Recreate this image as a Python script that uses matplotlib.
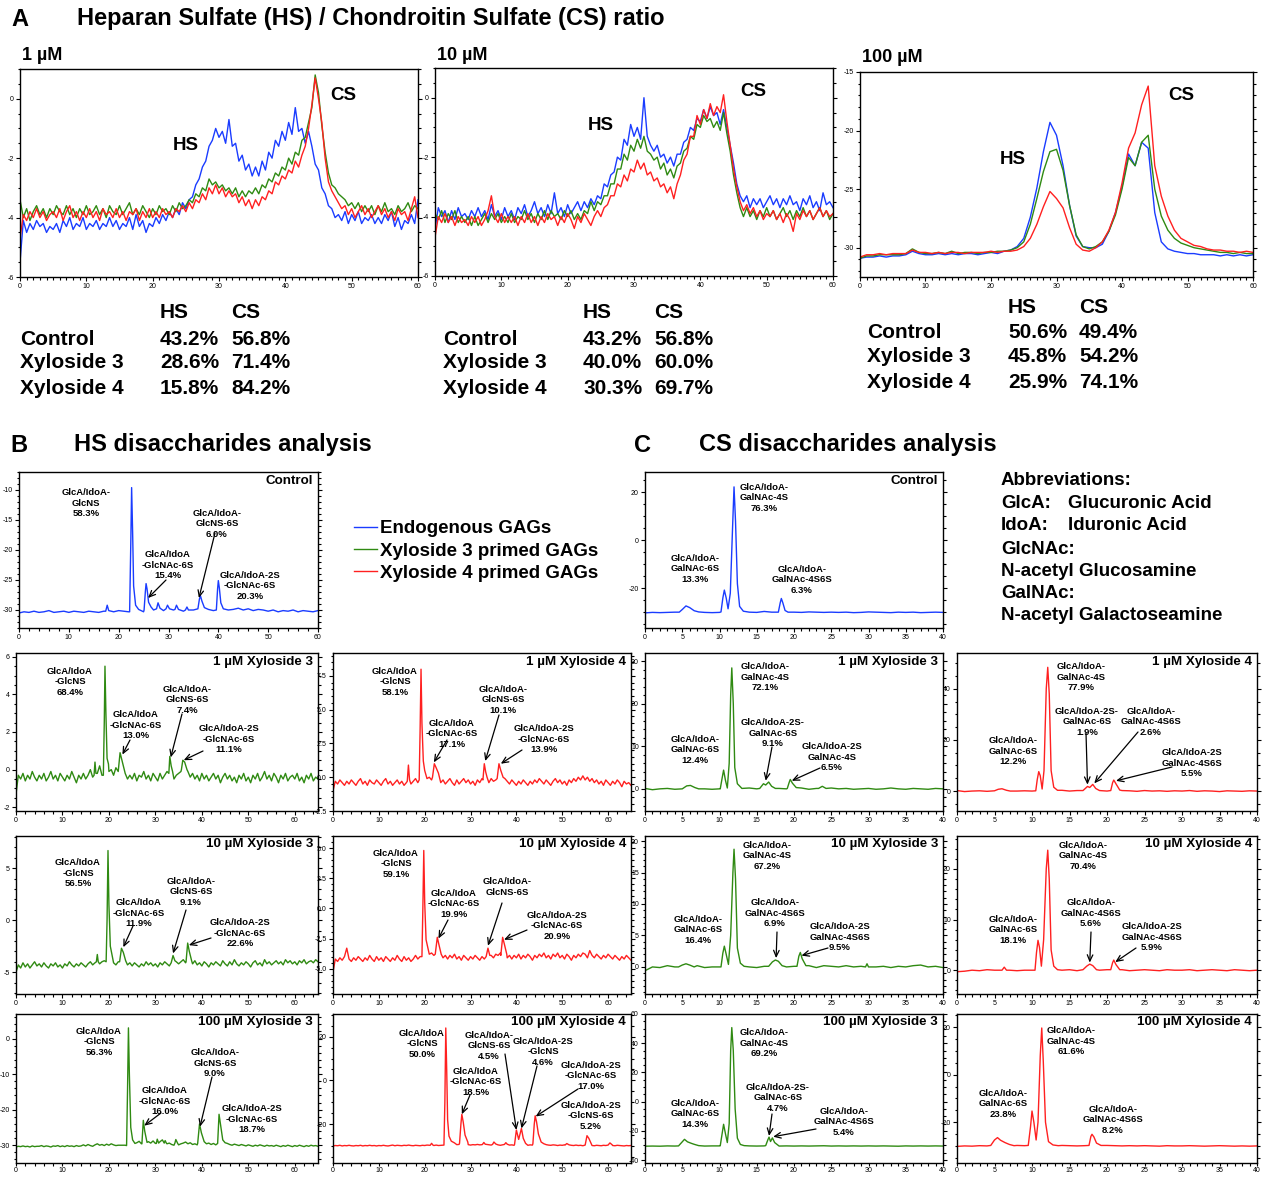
import numpy as np
import matplotlib
matplotlib.use('Agg')
import matplotlib.pyplot as plt
from matplotlib.ticker import MultipleLocator, FormatStrFormatter

plt.rcParams['font.family'] = ['Liberation Sans', 'DejaVu Sans']
plt.rcParams['axes.unicode_minus'] = False

W, H = 1262, 1179
BLUE, GREEN, RED = '#1a3cff', '#2f8a12', '#ff2020'

# ---------------- A: HS / CS ratio runs, 0-60 min, one value every 0.5 min
a1_blue = [-5.5,-4.1,-4.5,-4.2,-4.4,-4.1,-4.3,-4.2,-4.5,-4.3,-4.4,-4.2,-4.5,-4.1,-4.3,-4.0,-4.4,-4.2,-4.3,-4.0,
           -4.4,-4.2,-4.3,-4.1,-4.4,-4.2,-4.3,-4.0,-4.3,-4.1,-4.4,-4.2,-4.3,-4.0,-4.4,-3.9,-4.3,-4.1,-4.5,-4.2,
           -4.3,-4.0,-4.2,-3.9,-4.1,-3.8,-4.0,-3.7,-3.9,-3.5,-3.7,-3.4,-3.3,-2.9,-2.7,-2.3,-2.1,-1.6,-1.4,-1.0,
           -1.3,-1.1,-1.5,-0.7,-1.6,-1.5,-2.1,-1.9,-2.4,-2.2,-2.6,-2.3,-2.6,-2.1,-2.4,-1.8,-2.0,-1.4,-1.6,-1.1,
           -1.4,-0.8,-1.2,-0.3,-1.1,-1.0,-1.5,-1.1,-1.6,-2.2,-2.4,-3.0,-3.2,-3.6,-3.7,-4.0,-3.9,-4.1,-3.8,-4.2,
           -3.9,-4.1,-3.8,-4.2,-4.0,-4.1,-3.9,-4.2,-4.0,-4.2,-3.9,-4.1,-3.8,-4.3,-4.0,-4.4,-4.1,-4.2,-3.9,-4.2,-3.4]
a1_green = [-3.4,-4.0,-3.7,-4.1,-3.8,-3.6,-3.9,-3.7,-4.0,-3.7,-3.9,-3.6,-3.8,-3.9,-3.6,-3.9,-3.7,-4.0,-3.7,-3.9,
            -3.6,-3.9,-3.8,-3.6,-3.9,-3.7,-4.0,-3.6,-3.8,-3.9,-3.6,-3.9,-3.7,-3.5,-3.9,-3.7,-3.9,-3.6,-3.8,-4.0,
            -3.7,-3.9,-3.6,-3.8,-3.7,-3.9,-3.6,-3.8,-3.5,-3.7,-3.6,-3.4,-3.5,-3.2,-3.3,-3.0,-3.1,-2.7,-2.9,-2.8,
            -3.0,-2.9,-3.1,-3.0,-3.2,-3.0,-3.3,-3.1,-3.3,-3.1,-3.2,-3.0,-3.2,-2.9,-3.0,-2.7,-2.8,-2.5,-2.6,-2.3,
            -2.4,-2.0,-2.2,-1.8,-1.9,-1.4,-1.3,-0.8,-0.3,0.8,0.2,-0.9,-1.8,-2.5,-2.9,-3.0,-3.2,-3.3,-3.4,-3.6,
            -3.5,-3.7,-3.5,-3.8,-3.6,-3.8,-3.6,-3.9,-3.6,-3.8,-3.5,-3.8,-3.7,-3.9,-3.6,-3.8,-3.7,-3.5,-3.8,-3.6,-3.7]
a1_red = [-4.7,-3.9,-4.1,-3.8,-4.0,-3.7,-4.0,-3.8,-4.1,-3.9,-3.8,-4.0,-3.7,-4.1,-3.8,-3.6,-4.0,-3.8,-4.1,-3.8,
          -4.0,-3.7,-4.0,-3.8,-4.1,-3.7,-3.9,-3.8,-4.0,-3.7,-4.0,-3.8,-4.1,-3.8,-3.9,-3.7,-4.1,-3.8,-4.0,-3.7,
          -4.0,-3.8,-4.0,-3.7,-3.9,-3.8,-4.0,-3.7,-3.8,-3.6,-3.8,-3.5,-3.7,-3.4,-3.5,-3.2,-3.4,-3.0,-3.2,-2.9,
          -3.2,-3.0,-3.3,-3.1,-3.3,-3.2,-3.5,-3.3,-3.6,-3.4,-3.7,-3.4,-3.6,-3.3,-3.4,-3.1,-3.2,-2.8,-2.9,-2.6,
          -2.7,-2.4,-2.5,-2.1,-2.3,-1.9,-1.6,-1.0,-0.2,0.7,0.0,-0.8,-2.0,-2.8,-3.1,-3.3,-3.5,-3.7,-3.6,-3.9,
          -3.7,-4.0,-3.8,-3.6,-3.9,-3.7,-4.0,-3.8,-3.6,-3.9,-3.7,-4.0,-3.8,-4.1,-3.7,-3.9,-3.8,-4.1,-3.7,-3.3,-4.0]
a2_blue = [-4.4,-3.7,-4.0,-3.8,-4.2,-3.8,-4.1,-3.7,-4.0,-3.9,-4.1,-3.8,-4.0,-3.7,-4.0,-3.8,-4.1,-3.6,-4.0,-3.8,
           -4.1,-3.7,-4.0,-3.8,-4.1,-3.7,-3.9,-3.6,-4.0,-3.8,-3.5,-3.9,-3.7,-4.0,-3.6,-3.9,-3.2,-3.9,-3.7,-4.0,
           -3.6,-3.9,-3.7,-3.5,-3.8,-3.5,-3.7,-3.4,-3.6,-3.3,-3.4,-2.9,-3.0,-2.6,-2.5,-2.0,-2.1,-1.4,-1.6,-0.9,
           -1.3,-1.0,-1.4,0.0,-1.3,-1.6,-1.8,-1.6,-2.0,-1.9,-2.2,-2.0,-2.3,-1.9,-1.9,-1.5,-1.4,-1.0,-1.1,-0.7,
           -0.8,-0.4,-0.7,-0.3,-0.6,-0.5,-0.9,-0.4,-1.0,-1.6,-2.2,-2.9,-3.3,-3.5,-3.3,-3.7,-3.4,-3.6,-3.4,-3.7,
           -3.5,-3.3,-3.6,-3.4,-3.7,-3.4,-3.6,-3.3,-3.6,-3.5,-3.8,-3.4,-3.6,-3.3,-3.7,-3.5,-3.8,-3.2,-3.6,-3.5,-3.7]
a2_green = [-3.9,-4.1,-3.8,-4.2,-3.9,-4.1,-3.8,-4.2,-4.0,-4.2,-4.0,-4.3,-4.0,-4.3,-4.1,-3.9,-4.2,-3.9,-4.1,-3.9,
            -4.2,-4.0,-4.2,-3.9,-4.2,-4.0,-4.1,-3.8,-4.1,-3.9,-4.2,-3.9,-4.1,-3.8,-4.1,-3.8,-4.0,-3.9,-4.1,-3.8,
            -4.0,-3.8,-4.1,-3.9,-4.1,-3.8,-3.9,-3.5,-3.8,-3.5,-3.6,-3.3,-3.3,-2.9,-2.9,-2.4,-2.4,-1.9,-2.1,-1.6,
            -1.8,-1.4,-1.7,-1.3,-1.8,-1.9,-2.1,-2.0,-2.4,-2.2,-2.6,-2.4,-2.7,-2.3,-2.2,-1.8,-1.7,-1.3,-1.4,-0.9,
            -1.0,-0.6,-0.8,-0.7,-1.0,-0.8,-1.1,-0.5,-1.2,-1.8,-2.6,-3.2,-3.7,-4.0,-3.7,-4.0,-3.8,-4.1,-3.8,-4.0,
            -3.7,-4.0,-3.8,-4.1,-3.9,-3.7,-4.0,-3.8,-4.1,-3.8,-4.0,-3.7,-4.0,-3.8,-4.1,-3.9,-3.7,-4.0,-3.8,-4.1,-3.9]
a2_red = [-4.7,-4.0,-4.2,-3.9,-4.2,-4.0,-4.3,-4.0,-4.2,-4.1,-4.3,-4.0,-4.2,-4.0,-4.3,-4.1,-3.8,-3.3,-4.0,-4.2,
          -3.9,-4.2,-4.0,-4.2,-4.0,-4.3,-4.0,-4.2,-3.9,-4.2,-4.0,-4.3,-4.0,-4.2,-3.9,-4.1,-4.0,-4.3,-4.0,-4.2,
          -3.9,-4.1,-4.4,-4.0,-4.2,-3.9,-4.1,-4.3,-4.0,-3.8,-4.0,-3.7,-3.6,-3.3,-3.3,-2.9,-3.0,-2.6,-2.8,-2.4,
          -2.5,-2.1,-2.4,-2.2,-2.6,-2.5,-2.8,-2.7,-3.0,-2.9,-3.2,-3.0,-3.4,-2.9,-2.6,-2.1,-1.9,-1.3,-1.3,-0.6,
          -0.9,-0.4,-0.7,-0.2,-0.6,-0.3,-0.5,0.1,-0.8,-1.6,-2.4,-3.0,-3.5,-3.8,-3.6,-3.9,-3.7,-4.0,-3.8,-4.1,
          -3.9,-4.0,-3.8,-4.1,-3.9,-4.2,-3.9,-4.1,-4.5,-3.9,-4.1,-3.8,-4.0,-3.8,-4.1,-3.9,-3.7,-4.0,-3.8,-4.0,-3.9]
# 100 uM run, one value per minute
a3_blue = [-30.9,-30.8,-30.8,-30.7,-30.8,-30.7,-30.7,-30.6,-30.3,-30.5,-30.6,-30.6,-30.5,-30.6,-30.5,-30.6,
           -30.5,-30.5,-30.6,-30.5,-30.4,-30.5,-30.3,-30.2,-29.9,-29.2,-27.4,-24.9,-21.8,-19.3,-20.4,-23.0,
           -26.4,-29.0,-29.9,-30.0,-30.0,-29.7,-28.6,-27.0,-24.8,-22.0,-23.0,-21.0,-21.5,-27.0,-29.5,-30.1,
           -30.3,-30.4,-30.5,-30.5,-30.6,-30.6,-30.6,-30.7,-30.6,-30.7,-30.6,-30.7,-30.6]
a3_green = [-30.9,-30.7,-30.7,-30.6,-30.6,-30.6,-30.6,-30.5,-30.1,-30.4,-30.5,-30.5,-30.4,-30.5,-30.3,-30.5,
            -30.4,-30.4,-30.5,-30.4,-30.4,-30.3,-30.3,-30.2,-30.0,-29.5,-28.0,-25.8,-23.5,-21.8,-21.6,-23.4,
            -26.4,-28.9,-29.9,-30.1,-29.9,-29.5,-28.6,-27.2,-25.0,-22.3,-23.0,-21.0,-20.4,-25.0,-27.3,-28.5,
            -29.2,-29.6,-29.8,-30.0,-30.1,-30.2,-30.3,-30.4,-30.4,-30.5,-30.4,-30.5,-30.5]
a3_red = [-30.8,-30.6,-30.6,-30.5,-30.6,-30.5,-30.5,-30.5,-30.2,-30.4,-30.4,-30.5,-30.4,-30.5,-30.4,-30.4,
          -30.5,-30.4,-30.4,-30.4,-30.3,-30.4,-30.3,-30.3,-30.2,-29.9,-29.2,-28.0,-26.5,-25.2,-25.8,-26.6,
          -28.3,-29.7,-30.2,-30.3,-30.0,-29.5,-28.5,-27.0,-24.5,-21.5,-20.2,-17.8,-16.2,-23.0,-25.6,-27.3,
          -28.5,-29.2,-29.5,-29.8,-29.9,-30.1,-30.2,-30.2,-30.3,-30.3,-30.4,-30.3,-30.4]

groups = ['Control', 'Xyloside 3', 'Xyloside 4']
hs_pct = {'1 µM': [43.2, 28.6, 15.8], '10 µM': [43.2, 40.0, 30.3], '100 µM': [50.6, 45.8, 25.9]}
cs_pct = {'1 µM': [56.8, 71.4, 84.2], '10 µM': [56.8, 60.0, 69.7], '100 µM': [49.4, 54.2, 74.1]}

# ---------------- B / C: disaccharide runs. baseline sampled evenly, peaks as (min, signal) vertices
hs_ctrl_base = [-30.5,-30.3,-30.4,-30.2,-30.4,-30.3,-30.1,-30.4,-30.3,-30.2,-30.4,-30.2,-30.3,-30.4,-30.2,-30.3,
                -30.4,-30.2,-30.1,-30.3,-30.1,-30.2,-30.3,-30.3,-30.0,-30.3,-29.8,-30.0,-29.7,-30.1,-29.8,-30.0,
                -29.9,-30.2,-29.8,-30.0,-30.1,-30.0,-29.9,-30.1,-30.0,-29.8,-30.0,-29.9,-29.7,-30.0,-29.8,-30.1,
                -29.9,-30.0,-30.2,-30.0,-30.3,-30.1,-30.2,-30.0,-30.3,-30.1,-30.2,-30.3,-30.1]
hs_ctrl_peaks = [[(17.4,-30.2),(17.7,-29.2),(18.0,-30.1)],
                 [(22.2,-30.3),(22.45,-18),(22.6,-9.6),(22.8,-17),(23.0,-26),(23.4,-29.2),(24.0,-29.9)],
                 [(25.1,-30.0),(25.35,-27),(25.5,-25.6),(25.7,-26.5),(26.0,-28.7),(26.5,-29.5)],
                 [(27.6,-29.8),(27.9,-28.8),(28.3,-29.7)], [(29.5,-29.8),(29.8,-29.2),(30.2,-29.8)],
                 [(31.3,-29.9),(31.6,-29.2),(32.0,-29.9)], [(33.4,-30.0),(33.7,-29.5),(34.0,-30.0)],
                 [(35.9,-29.8),(36.2,-28.2),(36.4,-27.6),(36.7,-28.5),(37.2,-29.6)],
                 [(39.6,-30.0),(39.85,-26.5),(40.0,-25.1),(40.2,-26.3),(40.5,-28.8),(41.0,-29.8)]]

cs_ctrl_base = [-30.2,-30.0,-30.1,-30.0,-29.9,-29.5,-29.5,-29.9,-30.0,-30.1,-30.0,-30.0,-30.0,-29.8,-29.9,
                -30.0,-29.6,-29.9,-30.0,-30.0,-29.9,-30.0,-29.8,-29.9,-30.0,-29.9,-30.0,-29.9,-30.1,-30.0,
                -29.8,-29.9,-30.0,-30.1,-29.9,-30.0,-29.9,-30.1,-30.0,-29.9,-30.0]
cs_ctrl_peaks = [[(4.6,-29.9),(5.0,-28.8),(5.5,-27.3),(6.0,-28.0),(6.6,-29.3),(7.2,-29.8)],
                 [(10.2,-29.8),(10.45,-24),(10.65,-20.7),(10.9,-24),(11.15,-28.5),(11.45,-22),(11.75,5),
                  (11.95,22.3),(12.15,8),(12.4,-18),(12.7,-27.5),(13.2,-29.5)],
                 [(17.9,-29.9),(18.15,-26),(18.3,-24.2),(18.5,-26),(18.8,-29.2),(19.2,-29.9)]]

# HS runs, 0-65 min every 0.5 min
hs_x3_1_base = [-1.3,-0.3,-0.5,-0.2,-0.6,-0.3,-0.5,-0.1,-0.4,-0.6,-0.3,-0.5,-0.2,-0.6,-0.4,-0.1,-0.5,-0.3,-0.6,-0.2,
                -0.4,-0.6,-0.3,-0.5,-0.1,-0.4,-0.7,-0.3,-0.5,-0.2,-0.5,-0.3,0.0,-0.4,-0.6,-0.2,0.2,-0.3,-0.2,-0.2,
                -0.1,0.0,-0.3,0.1,-0.2,-0.1,-0.4,-0.2,-0.5,-0.3,-0.5,-0.2,-0.6,-0.3,-0.4,-0.1,-0.5,-0.3,-0.6,-0.2,
                -0.4,-0.6,-0.2,-0.5,-0.3,-0.1,-0.4,-0.2,-0.5,-0.3,-0.2,-0.1,0.0,-0.3,-0.1,-0.4,-0.2,-0.5,-0.3,-0.6,
                -0.2,-0.5,-0.3,-0.6,-0.4,-0.2,-0.5,-0.3,-0.7,-0.4,-0.2,-0.5,-0.3,-0.6,-0.4,-0.7,-0.3,-0.5,-0.2,-0.6,
                -0.4,-0.7,-0.3,-0.5,-0.2,-0.6,-0.4,-0.1,-0.5,-0.3,-0.6,-0.2,-0.4,-0.7,-0.3,-0.5,-0.2,-0.6,-0.4,-0.3,
                -0.5,-0.2,-0.6,-0.4,-0.7,-0.3,-0.5,-0.2,-0.6,-0.4,-0.5]
hs_x3_1_peaks = [[(16.8,-0.3),(17.0,0.4),(17.2,-0.2)],
                 [(18.8,-0.3),(19.0,2.5),(19.15,5.5),(19.35,3.0),(19.6,0.6),(19.9,0.3)],
                 [(22.0,-0.1),(22.4,0.9),(22.7,0.6),(23.2,0.1)],
                 [(32.9,-0.2),(33.1,0.7),(33.4,0.2),(33.7,-0.1)],
                 [(35.6,0.0),(35.9,0.5),(36.3,0.4),(36.8,0.0)]]
hs_x4_1_base = [-1.0,-0.3,-0.5,-0.2,-0.4,-0.6,-0.3,-0.5,-0.2,-0.4,-0.6,-0.3,-0.1,-0.5,-0.3,-0.6,-0.2,-0.4,-0.5,-0.2,
                -0.4,-0.6,-0.3,-0.1,-0.5,-0.3,-0.6,-0.4,-0.2,-0.5,-0.3,-0.6,-0.4,-0.2,-0.5,-0.3,-0.1,-0.4,-0.2,0.2,
                0.1,-0.1,0.0,-0.2,0.0,-0.3,-0.1,-0.4,-0.2,-0.5,-0.3,-0.1,-0.4,-0.6,-0.2,-0.5,-0.3,-0.1,-0.4,-0.2,
                -0.5,-0.3,-0.6,-0.2,-0.4,-0.1,-0.3,-0.2,-0.4,-0.1,-0.3,-0.2,0.0,-0.2,-0.4,-0.1,-0.3,-0.5,-0.2,-0.4,
                -0.6,-0.3,-0.5,-0.2,-0.4,-0.6,-0.3,-0.5,-0.2,-0.4,-0.1,-0.3,-0.5,-0.2,-0.4,-0.6,-0.3,-0.1,-0.4,-0.2,
                -0.5,-0.3,-0.6,-0.2,-0.4,-0.1,-0.3,0.0,-0.2,0.1,-0.2,0.0,-0.3,-0.1,-0.4,-0.2,-0.5,-0.3,-0.6,-0.2,
                -0.4,-0.6,-0.3,-0.5,-0.2,-0.4,-0.7,-0.3,-0.5,-0.4,-0.6]
hs_x4_1_peaks = [[(16.2,-0.3),(16.45,0.9),(16.7,-0.2)],
                 [(18.8,-0.2),(19.0,3.5),(19.2,8.0),(19.4,4.0),(19.7,1.2),(20.0,0.5)],
                 [(21.7,0.0),(22.1,1.0),(22.5,0.7),(23.0,0.3)],
                 [(32.7,-0.2),(33.0,1.0),(33.3,0.4),(33.6,0.0)],
                 [(35.8,-0.1),(36.2,1.0),(36.6,0.5),(37.1,0.0)]]
hs_x3_10_base = [-5.0,-4.3,-4.6,-4.1,-4.5,-4.2,-4.6,-4.3,-4.0,-4.4,-4.2,-4.5,-4.1,-4.4,-4.6,-4.2,-4.4,-4.1,-4.5,-4.3,
                 -4.6,-4.2,-4.4,-4.0,-4.3,-4.5,-4.2,-4.4,-4.1,-4.3,-4.5,-4.2,-4.0,-4.3,-4.1,-3.7,-4.2,-4.0,-3.9,-3.8,
                 -3.6,-3.9,-4.1,-4.3,-4.0,-3.8,-4.2,-4.0,-4.3,-4.1,-4.4,-4.1,-4.3,-4.5,-4.2,-4.4,-4.0,-4.3,-4.1,-4.4,
                 -4.2,-4.5,-4.1,-4.3,-4.0,-4.2,-4.4,-4.1,-4.3,-4.0,-4.2,-4.0,-3.8,-4.1,-4.3,-4.0,-4.2,-3.9,-4.3,-4.1,
                 -4.4,-4.0,-4.2,-4.5,-4.1,-4.3,-4.0,-4.2,-4.4,-3.9,-4.2,-4.4,-4.0,-4.3,-3.8,-4.2,-4.4,-4.1,-4.3,-4.0,
                 -4.2,-4.5,-4.1,-3.9,-4.3,-4.1,-4.4,-3.8,-4.2,-4.0,-4.3,-4.1,-3.9,-4.2,-4.0,-4.3,-3.8,-4.1,-3.9,-4.2,
                 -4.0,-4.3,-3.9,-4.1,-3.8,-4.2,-4.0,-3.9,-4.1,-3.8,-4.0]
hs_x3_10_peaks = [[(17.3,-4.0),(17.5,-3.3),(17.7,-4.0)],
                  [(19.4,-4.0),(19.6,0.0),(19.8,6.7),(20.0,1.5),(20.3,-2.5),(20.7,-3.4)],
                  [(22.3,-4.0),(22.7,-2.7),(23.1,-3.1),(23.6,-3.9)],
                  [(33.4,-4.1),(33.8,-3.4),(34.2,-3.9)],
                  [(36.6,-4.0),(36.95,-2.2),(37.3,-3.0),(37.8,-3.9)]]
hs_x4_10_base = [-5.3,-4.2,-4.4,-4.1,-4.3,-4.0,-3.3,-4.2,-4.4,-4.1,-4.3,-4.0,-4.2,-4.4,-4.1,-4.3,-3.9,-4.2,-4.4,-4.0,
                 -4.3,-4.1,-4.4,-4.0,-4.2,-4.4,-4.1,-4.3,-3.9,-4.2,-4.4,-4.0,-4.3,-4.1,-4.4,-4.2,-3.9,-4.2,-4.0,-3.8,
                 -3.4,-3.6,-3.8,-3.7,-3.9,-3.7,-4.0,-3.8,-4.1,-3.9,-4.2,-3.9,-4.1,-3.8,-4.2,-4.0,-4.3,-3.9,-4.1,-4.3,
                 -4.0,-4.2,-3.9,-4.1,-4.3,-4.0,-4.2,-3.8,-4.1,-3.9,-4.1,-3.8,-3.9,-3.7,-4.0,-3.8,-4.1,-3.9,-4.2,-3.9,
                 -4.1,-3.8,-4.2,-3.9,-4.1,-3.8,-4.0,-4.3,-3.9,-4.1,-3.8,-4.0,-3.7,-4.1,-3.9,-4.2,-3.8,-4.0,-3.7,-4.1,
                 -3.9,-4.2,-3.8,-4.0,-4.3,-3.9,-4.1,-3.8,-4.0,-3.7,-3.8,-4.1,-3.5,-3.9,-4.1,-3.8,-4.0,-4.2,-3.9,-4.1,
                 -3.8,-4.0,-4.2,-3.9,-4.1,-4.3,-4.0,-4.2,-3.9,-4.1,-4.3]
hs_x4_10_peaks = [[(19.4,-4.0),(19.6,0.0),(19.8,4.8),(20.0,0.5),(20.3,-2.6),(20.7,-3.3)],
                  [(22.3,-3.8),(22.75,-2.4),(23.1,-3.0),(23.6,-3.8)],
                  [(33.4,-4.0),(33.8,-3.3),(34.2,-3.9)],
                  [(36.6,-3.9),(37.0,-2.4),(37.4,-3.0),(37.9,-3.8)]]
hs_x3_100_base = [-30.5,-30.3,-30.4,-30.2,-30.4,-30.3,-30.5,-30.2,-30.4,-30.3,-30.3,-30.1,-30.4,-30.2,-30.3,-30.5,
                  -30.2,-30.3,-30.1,-30.4,-30.2,-30.4,-30.1,-30.3,-30.2,-30.4,-30.1,-30.3,-30.2,-29.9,-30.2,-29.8,
                  -30.1,-30.3,-29.9,-29.6,-30.0,-29.8,-30.1,-29.7,-30.0,-29.6,-29.9,-30.1,-30.0,-30.0,-30.0,-30.0,
                  -29.5,-29.8,-29.0,-28.8,-29.3,-28.9,-29.6,-29.3,-29.5,-29.0,-29.4,-28.8,-29.5,-29.2,-29.0,-28.5,
                  -29.3,-29.6,-29.4,-29.8,-30.0,-29.7,-29.9,-29.6,-29.4,-29.1,-29.6,-29.3,-29.8,-29.6,-29.9,-30.1,
                  -29.8,-30.0,-29.6,-29.4,-29.8,-29.5,-29.9,-29.6,-29.8,-30.0,-29.7,-29.5,-29.8,-30.0,-29.7,-29.9,
                  -30.1,-29.8,-30.0,-30.2,-29.9,-30.1,-30.3,-30.0,-30.2,-29.9,-30.1,-30.3,-30.0,-30.2,-30.1,-30.3,
                  -30.0,-30.2,-30.4,-30.1,-30.3,-30.0,-30.2,-30.4,-30.1,-30.3,-30.0,-30.2,-30.4,-30.1,-30.3,-30.0,
                  -30.2,-30.1,-30.3]
hs_x3_100_peaks = [[(23.8,-30.1),(24.0,-15),(24.2,3.0),(24.4,-10),(24.7,-25),(25.1,-28.5),(25.6,-29.5)],
                   [(27.1,-29.6),(27.4,-23),(27.7,-26),(28.2,-29.2)],
                   [(30.2,-29.5),(30.4,-28.3),(30.7,-29.4)], [(31.9,-29.4),(32.1,-28.7),(32.4,-29.5)],
                   [(34.2,-29.4),(34.4,-28.4),(34.8,-29.5)],
                   [(39.1,-29.5),(39.5,-24.0),(39.9,-26.5),(40.5,-29.0)],
                   [(43.4,-29.5),(43.7,-21.3),(44.0,-24),(44.5,-28.5),(45.0,-29.3)]]
hs_x4_100_base = [-30.0,-29.8,-29.9,-29.7,-30.0,-29.8,-29.9,-29.7,-29.9,-30.0,-29.8,-29.9,-29.7,-30.0,-29.8,-29.9,
                  -29.7,-29.9,-29.8,-30.0,-29.8,-29.9,-29.7,-29.9,-30.0,-29.8,-29.6,-29.9,-29.7,-29.8,-29.9,-29.7,
                  -29.8,-29.6,-29.8,-29.9,-29.7,-29.8,-29.9,-29.7,-29.8,-29.6,-29.7,-29.5,-29.8,-29.6,-29.8,-29.7,
                  -29.6,-29.5,-28.0,-28.6,-29.0,-29.2,-29.4,-29.3,-29.5,-29.3,-29.5,-29.4,-29.6,-29.4,-29.5,-29.3,
                  -29.5,-29.4,-29.6,-29.3,-29.5,-29.6,-29.4,-29.6,-29.5,-29.7,-29.5,-29.6,-29.4,-29.6,-29.5,-29.7,
                  -29.5,-29.6,-29.4,-29.6,-29.5,-29.7,-29.5,-29.6,-29.4,-29.6,-29.3,-29.5,-29.6,-29.4,-29.6,-29.7,
                  -29.5,-29.6,-29.8,-29.6,-29.7,-29.5,-29.3,-29.5,-29.7,-29.8,-29.6,-29.8,-29.7,-29.9,-29.7,-29.8,
                  -29.6,-29.8,-29.9,-29.7,-29.8,-29.9,-29.7,-29.8,-29.9,-29.7,-29.8,-29.9,-29.7,-29.8,-29.9,-30.0,
                  -29.8,-29.9,-29.8]
hs_x4_100_peaks = [[(21.2,-29.7),(21.5,-28.8),(21.8,-29.6)],
                   [(24.2,-29.6),(24.4,-10),(24.6,24),(24.8,5),(25.0,-18),(25.3,-25.5),(25.8,-27.8),(26.5,-28.6)],
                   [(27.6,-28.8),(27.9,-20),(28.1,-15.5),(28.4,-19),(28.8,-25),(29.4,-28.2)],
                   [(32.6,-29.3),(32.9,-28.4),(33.2,-29.2)], [(34.8,-29.3),(35.1,-28.2),(35.5,-29.1)],
                   [(37.4,-29.3),(37.7,-28.5),(38.0,-29.2)],
                   [(39.6,-29.3),(40.0,-22.7),(40.5,-27),(41.1,-22.0),(41.5,-26.5),(42.0,-28.8)],
                   [(43.6,-29.0),(43.9,-20),(44.1,-16.2),(44.4,-19),(44.8,-24.5),(45.4,-28.2),(46.0,-29.0)],
                   [(50.6,-29.6),(51.0,-28.9),(51.5,-29.5)],
                   [(55.0,-29.6),(55.4,-25.3),(55.8,-26.5),(56.4,-29.3)],
                   [(60.0,-29.6),(60.4,-28.6),(60.9,-29.5)]]

# CS runs, 0-40 min every minute
cs_x3_1_base = [0.1,-0.2,0.0,0.1,-0.1,0.2,0.6,0.3,0.0,-0.1,0.0,0.0,0.0,0.1,0.2,0.0,0.0,0.0,0.1,0.0,
                0.0,0.2,-0.1,0.1,0.5,0.2,0.0,0.1,-0.1,0.0,0.1,-0.1,0.0,0.2,0.0,-0.1,0.1,0.0,-0.1,0.1,0.0]
cs_x3_1_peaks = [[(5.0,0.0),(5.6,0.7),(6.1,0.8),(6.7,0.3),(7.2,0.0)],
                 [(10.1,0.0),(10.35,2.5),(10.55,4.4),(10.8,2.0),(11.05,0.2),(11.3,6),(11.5,22),(11.65,28.4),
                  (11.85,20),(12.05,5),(12.4,1.2),(12.9,0.3)],
                 [(15.4,0.1),(15.9,1.2),(16.2,0.9),(16.6,1.6),(17.0,0.6),(17.5,0.1)],
                 [(19.1,0.1),(19.35,1.5),(19.5,2.2),(19.8,1.3),(20.3,0.3)],
                 [(23.3,0.1),(23.8,0.6),(24.3,0.1)]]
cs_x4_1_base = [0.2,-0.2,0.0,0.1,-0.1,0.2,0.7,0.4,0.0,0.1,0.0,0.0,0.0,0.0,0.3,0.0,0.2,0.0,0.0,0.0,
                0.0,0.0,0.2,0.1,-0.1,0.2,0.0,0.1,-0.1,0.1,0.0,0.2,-0.1,0.1,0.0,-0.2,0.1,0.0,-0.1,0.1,0.0]
cs_x4_1_peaks = [[(5.0,0.1),(5.5,0.7),(6.0,0.9),(6.6,0.3),(7.1,0.0)],
                 [(10.5,0.1),(10.7,4.5),(10.9,7.6),(11.1,6.0),(11.35,0.8),(11.6,8),(11.9,40),(12.1,48.4),
                  (12.3,38),(12.55,8),(12.9,1.5),(13.4,0.3)],
                 [(16.8,0.2),(17.4,1.8),(17.7,1.4),(18.1,2.6),(18.5,1.0),(19.0,0.2)],
                 [(20.5,0.2),(20.75,3.3),(20.9,4.3),(21.2,2.8),(21.7,0.4)]]
cs_x3_10_base = [-0.6,0.0,-0.1,0.2,0.0,0.1,0.4,0.2,-0.1,0.0,0.0,0.0,0.0,0.1,0.0,-0.1,0.1,0.0,0.0,0.0,
                 0.1,0.0,0.2,-0.1,0.2,0.1,0.0,0.2,0.0,0.1,0.1,0.0,0.1,-0.1,0.1,0.0,0.2,0.3,0.0,0.1,-0.1]
cs_x3_10_peaks = [[(4.5,0.0),(5.0,0.3),(5.5,0.5),(6.0,0.3),(6.6,0.0)],
                  [(10.2,0.0),(10.45,2.2),(10.65,3.3),(10.9,2.0),(11.2,0.4),(11.5,5),(11.8,15),(11.95,18.7),
                   (12.15,14),(12.4,3),(12.8,0.6),(13.3,0.1)],
                  [(16.6,0.1),(17.1,0.8),(17.5,1.1),(17.9,0.9),(18.4,0.2)],
                  [(20.4,0.1),(20.65,1.7),(20.85,2.3),(21.1,1.3),(21.6,0.2)],
                  [(29.6,0.0),(29.8,0.5),(30.0,0.0)]]
cs_x4_10_base = [-0.3,-0.2,0.0,-0.1,0.1,0.0,0.2,0.0,-0.1,0.0,0.0,0.0,0.0,0.0,0.0,0.1,-0.1,0.0,0.0,0.0,
                 0.1,0.0,0.1,-0.1,0.0,0.1,0.0,-0.1,0.1,0.0,0.0,0.1,-0.1,0.0,0.1,0.0,-0.1,0.1,0.0,-0.1,0.0]
cs_x4_10_peaks = [[(6.0,0.0),(6.3,0.6),(6.6,0.0)],
                  [(10.4,0.0),(10.6,3.5),(10.8,5.9),(11.0,4.5),(11.25,0.8),(11.55,6),(11.9,20),(12.1,23.7),
                   (12.3,18),(12.55,4),(12.9,0.8),(13.4,0.1)],
                  [(16.8,0.1),(17.3,0.8),(17.7,1.2),(18.1,0.9),(18.6,0.1)],
                  [(20.5,0.1),(20.75,1.5),(20.9,2.0),(21.2,1.1),(21.7,0.1)]]
cs_x3_100_base = [-30.5,-30.4,-30.5,-30.3,-30.4,-30.0,-30.0,-30.3,-30.4,-30.3,-30.3,-30.3,-30.3,-30.2,
                  -30.3,-30.4,-30.3,-30.3,-30.4,-30.3,-30.4,-30.3,-30.4,-30.3,-30.2,-30.4,-30.3,-30.4,
                  -30.3,-30.4,-30.3,-30.4,-30.3,-30.4,-30.5,-30.3,-30.4,-30.3,-30.4,-30.3,-30.4]
cs_x3_100_peaks = [[(4.5,-30.3),(5.0,-27.5),(5.3,-25.8),(5.7,-27.5),(6.2,-28.5),(6.6,-29.2),(7.2,-30.1)],
                   [(10.1,-30.2),(10.35,-22),(10.55,-15.5),(10.8,-22),(11.05,-28),(11.3,-15),(11.5,35),
                    (11.65,50.7),(11.85,35),(12.1,-5),(12.4,-25),(12.8,-29.3),(13.3,-30.1)],
                   [(16.2,-30.1),(16.5,-26),(16.65,-24.3),(16.85,-27.3),(17.1,-24.8),(17.4,-28),(17.9,-30.0)]]
cs_x4_100_base = [-30.2,-30.0,-30.1,-29.9,-30.0,-30.0,-30.0,-30.0,-29.8,-29.9,-30.0,-30.0,-30.0,-29.6,
                  -29.8,-29.9,-30.0,-29.9,-30.0,-30.0,-29.8,-29.9,-30.0,-29.9,-30.0,-29.9,-30.0,-30.1,
                  -29.9,-30.0,-30.0,-29.9,-30.0,-30.1,-30.0,-29.9,-30.0,-30.1,-30.0,-30.1,-30.0]
cs_x4_100_peaks = [[(4.5,-29.8),(5.0,-27.5),(5.4,-26.5),(5.8,-27.6),(6.4,-28.6),(7.0,-29.4),(7.6,-29.9)],
                   [(9.5,-29.8),(9.8,-22),(10.0,-15.3),(10.25,-20),(10.55,-27.5),(10.8,-20),(11.1,8),(11.3,19.7),
                    (11.5,6),(11.8,-20),(12.2,-28.2),(12.8,-29.6),(13.5,-29.9)],
                   [(17.6,-29.8),(17.85,-26),(18.0,-25.1),(18.25,-26.2),(18.6,-28.8),(19.2,-29.8)]]


def build(base, t_end, peaks):
    pts = list(zip(np.linspace(0, t_end, len(base)), base))
    for pk in peaks:
        lo, hi = pk[0][0], pk[-1][0]
        pts = [p for p in pts if not lo <= p[0] <= hi] + list(pk)
    pts.sort()
    t, y = zip(*pts)
    return t, y


fig = plt.figure(figsize=(W / 100, H / 100), dpi=100)


def make_axes(l, t, r, b):
    return fig.add_axes([l / W, 1 - b / H, (r - l) / W, (b - t) / H])


def fxy(x, y):
    return x / W, 1 - y / H


def ftext(x, y, s, size, **kw):
    kw.setdefault('va', 'center')
    fig.text(x / W, 1 - y / H, s, fontsize=size, fontweight='bold', **kw)


def dress(ax, xmax, xt, ylim, yt, yfmt=None):
    ax.set_xlim(0, xmax)
    ax.set_ylim(ylim)
    ax.xaxis.set_major_locator(MultipleLocator(xt[0]))
    ax.xaxis.set_minor_locator(MultipleLocator(xt[1]))
    ax.yaxis.set_major_locator(MultipleLocator(yt[0]))
    ax.yaxis.set_minor_locator(MultipleLocator(yt[1]))
    if yfmt:
        ax.yaxis.set_major_formatter(FormatStrFormatter(yfmt))
    ax.tick_params(which='both', direction='out', right=True, labelsize=5, width=0.8, pad=1.5)
    ax.tick_params(which='major', length=3)
    ax.tick_params(which='minor', length=1.8)
    for s in ax.spines.values():
        s.set_linewidth(1.0)


# ---------------- section A
ftext(11, 19, 'A', 17)
ftext(77, 19, 'Heparan Sulfate (HS) / Chondroitin Sulfate (CS) ratio', 17)

a_runs = [
    ('1 µM', (20, 69, 418, 277), (a1_blue, a1_green, a1_red), (-6, 1), (2, 0.5), (22, 55), (186, 145), (343, 96), (20, 160, 231), (313, 339, 363, 388)),
    ('10 µM', (435, 68, 833, 276), (a2_blue, a2_green, a2_red), (-6, 1), (2, 0.5), (437, 55), (601, 126), (753, 92), (443, 583, 654), (313, 339, 363, 388)),
    ('100 µM', (860, 72, 1253, 277), (a3_blue, a3_green, a3_red), (-32.5, -15), (5, 1), (862, 58), (1013, 159), (1181, 95), (867, 1008, 1079), (307, 332, 357, 382)),
]
for conc, bx, traces, ylim, yt, cpos, hpos, spos, tx, ty in a_runs:
    ax = make_axes(*bx)
    for y, c in zip(traces, (BLUE, GREEN, RED)):
        ax.plot(np.linspace(0, 60, len(y)), y, color=c, lw=1.0)
    dress(ax, 60, (10, 1), ylim, yt)
    ftext(cpos[0], cpos[1], conc, 13)
    ftext(hpos[0], hpos[1], 'HS', 13.5, ha='center')
    ftext(spos[0], spos[1], 'CS', 13.5, ha='center')
    ftext(tx[1], ty[0], 'HS', 15)
    ftext(tx[2], ty[0], 'CS', 15)
    for g, hs, cs, yy in zip(groups, hs_pct[conc], cs_pct[conc], ty[1:]):
        ftext(tx[0], yy, g, 15)
        ftext(tx[1], yy, f'{hs:.1f}%', 15)
        ftext(tx[2], yy, f'{cs:.1f}%', 15)

# ---------------- sections B and C
ftext(10, 445, 'B', 17)
ftext(74, 445, 'HS disaccharides analysis', 17)
ftext(634, 445, 'C', 17)
ftext(699, 445, 'CS disaccharides analysis', 17)

abbrev = [('Abbreviations:', None), ('GlcA:', 'Glucuronic Acid'), ('IdoA:', 'Iduronic Acid'), ('GlcNAc:', None),
          ('N-acetyl Glucosamine', None), ('GalNAc:', None), ('N-acetyl Galactoseamine', None)]
for (a, b), yy in zip(abbrev, (481, 503, 526, 549, 571, 594, 616)):
    ftext(1001, yy, a, 13.5)
    if b:
        ftext(1068, yy, b, 13.5)

C1, C2, C3, C4 = (16, 318), (333, 631), (645, 943), (957, 1257)
R1, R2, R3 = (653, 811), (836, 994), (1014, 1163)

panels = [
    dict(box=(19, 472, 318, 628), c=BLUE, base=hs_ctrl_base, tend=60, peaks=hs_ctrl_peaks, title='Control',
         xmax=60, xt=(10, 2), ylim=(-33, -7), yt=(5, 1), fmt=None,
         labels=[('GlcA/IdoA-\nGlcNS\n58.3%', 86, 503), ('GlcA/IdoA\n-GlcNAc-6S\n15.4%', 168, 565),
                 ('GlcA/IdoA-\nGlcNS-6S\n6.0%', 217, 524), ('GlcA/IdoA-2S\n-GlcNAc-6S\n20.3%', 250, 586)],
         arrows=[(166, 580, 25.9, -28.0), (215, 533, 36.1, -28.0)]),
    dict(box=(645, 472, 943, 628), c=BLUE, base=cs_ctrl_base, tend=40, peaks=cs_ctrl_peaks, title='Control',
         xmax=40, xt=(5, 1), ylim=(-36.5, 28.5), yt=(20, 5), fmt=None,
         labels=[('GlcA/IdoA-\nGalNAc-4S\n76.3%', 764, 498), ('GlcA/IdoA-\nGalNAc-6S\n13.3%', 695, 569),
                 ('GlcA/IdoA-\nGalNAc-4S6S\n6.3%', 802, 580)],
         arrows=[]),
    dict(box=(C1[0], R1[0], C1[1], R1[1]), c=GREEN, base=hs_x3_1_base, tend=65, peaks=hs_x3_1_peaks,
         title='1 µM Xyloside 3', xmax=65, xt=(10, 2), ylim=(-2.2, 6.2), yt=(2, 0.5), fmt=None,
         labels=[('GlcA/IdoA\n-GlcNS\n68.4%', 70, 682), ('GlcA/IdoA\n-GlcNAc-6S\n13.0%', 136, 725),
                 ('GlcA/IdoA-\nGlcNS-6S\n7.4%', 187, 700), ('GlcA/IdoA-2S\n-GlcNAc-6S\n11.1%', 229, 739)],
         arrows=[(130, 740, 22.9, 0.8), (182, 714, 33.3, 0.65), (203, 751, 36.1, 0.5)]),
    dict(box=(C2[0], R1[0], C2[1], R1[1]), c=RED, base=hs_x4_1_base, tend=65, peaks=hs_x4_1_peaks,
         title='1 µM Xyloside 4', xmax=65, xt=(10, 2), ylim=(-2.5, 9.2), yt=(2.5, 0.5), fmt='%.1f',
         labels=[('GlcA/IdoA\n-GlcNS\n58.1%', 395, 682), ('GlcA/IdoA\n-GlcNAc-6S\n17.1%', 452, 734),
                 ('GlcA/IdoA-\nGlcNS-6S\n10.1%', 503, 700), ('GlcA/IdoA-2S\n-GlcNAc-6S\n13.9%', 544, 739)],
         arrows=[(447, 740, 22.0, 1.1), (499, 715, 33.2, 1.2), (522, 750, 36.6, 1.0)]),
    dict(box=(C3[0], R1[0], C3[1], R1[1]), c=GREEN, base=cs_x3_1_base, tend=40, peaks=cs_x3_1_peaks,
         title='1 µM Xyloside 3', xmax=40, xt=(5, 1), ylim=(-5.2, 31.9), yt=(10, 2), fmt=None,
         labels=[('GlcA/IdoA-\nGalNAc-4S\n72.1%', 765, 677), ('GlcA/IdoA-\nGalNAc-6S\n12.4%', 695, 750),
                 ('GlcA/IdoA-2S-\nGalNAc-6S\n9.1%', 773, 733), ('GlcA/IdoA-2S\nGalNAc-4S\n6.5%', 832, 757)],
         arrows=[(772, 747, 16.2, 1.9), (820, 768, 19.7, 1.9)]),
    dict(box=(C4[0], R1[0], C4[1], R1[1]), c=RED, base=cs_x4_1_base, tend=40, peaks=cs_x4_1_peaks,
         title='1 µM Xyloside 4', xmax=40, xt=(5, 1), ylim=(-7.8, 54), yt=(20, 5), fmt=None,
         labels=[('GlcA/IdoA-\nGalNAc-4S\n77.9%', 1081, 677), ('GlcA/IdoA-\nGalNAc-6S\n12.2%', 1013, 751),
                 ('GlcA/IdoA-2S-\nGalNAc-6S\n1.9%', 1087, 722), ('GlcA/IdoA-\nGalNAc-4S6S\n2.6%', 1151, 722),
                 ('GlcA/IdoA-2S\nGalNAc-4S6S\n5.5%', 1192, 763)],
         arrows=[(1086, 733, 17.4, 2.5), (1138, 732, 18.3, 3.0), (1172, 767, 21.2, 4.0)]),
    dict(box=(C1[0], R2[0], C1[1], R2[1]), c=GREEN, base=hs_x3_10_base, tend=65, peaks=hs_x3_10_peaks,
         title='10 µM Xyloside 3', xmax=65, xt=(10, 2), ylim=(-7.1, 8.1), yt=(5, 1), fmt=None,
         labels=[('GlcA/IdoA\n-GlcNS\n56.5%', 78, 873), ('GlcA/IdoA\n-GlcNAc-6S\n11.9%', 139, 913),
                 ('GlcA/IdoA-\nGlcNS-6S\n9.1%', 191, 892), ('GlcA/IdoA-2S\n-GlcNAc-6S\n22.6%', 240, 933)],
         arrows=[(133, 926, 23.1, -2.6), (186, 910, 33.8, -3.2), (211, 938, 37.2, -2.4)]),
    dict(box=(C2[0], R2[0], C2[1], R2[1]), c=RED, base=hs_x4_10_base, tend=65, peaks=hs_x4_10_peaks,
         title='10 µM Xyloside 4', xmax=65, xt=(10, 2), ylim=(-7.1, 6.0), yt=(2.5, 0.5), fmt='%.1f',
         labels=[('GlcA/IdoA\n-GlcNS\n59.1%', 396, 864), ('GlcA/IdoA\n-GlcNAc-6S\n19.9%', 454, 904),
                 ('GlcA/IdoA-\nGlcNS-6S', 507, 887), ('GlcA/IdoA-2S\n-GlcNAc-6S\n20.9%', 557, 926)],
         arrows=[(448, 920, 23.0, -2.5), (502, 903, 33.8, -3.1), (527, 930, 37.3, -2.6)]),
    dict(box=(C3[0], R2[0], C3[1], R2[1]), c=GREEN, base=cs_x3_10_base, tend=40, peaks=cs_x3_10_peaks,
         title='10 µM Xyloside 3', xmax=40, xt=(5, 1), ylim=(-4.3, 20.8), yt=(5, 1), fmt=None,
         labels=[('GlcA/IdoA-\nGalNAc-4S\n67.2%', 767, 856), ('GlcA/IdoA-\nGalNAc-6S\n16.4%', 698, 930),
                 ('GlcA/IdoA-\nGalNAc-4S6S\n6.9%', 775, 913), ('GlcA/IdoA-2S\nGalNAc-4S6S\n9.5%', 840, 937)],
         arrows=[(777, 932, 17.6, 1.4), (828, 948, 21.0, 1.8)]),
    dict(box=(C4[0], R2[0], C4[1], R2[1]), c=RED, base=cs_x4_10_base, tend=40, peaks=cs_x4_10_peaks,
         title='10 µM Xyloside 4', xmax=40, xt=(5, 1), ylim=(-4.7, 26.5), yt=(10, 2), fmt=None,
         labels=[('GlcA/IdoA-\nGalNAc-4S\n70.4%', 1083, 856), ('GlcA/IdoA-\nGalNAc-6S\n18.1%', 1013, 930),
                 ('GlcA/IdoA-\nGalNAc-4S6S\n5.6%', 1091, 913), ('GlcA/IdoA-2S\nGalNAc-4S6S\n5.9%', 1152, 937)],
         arrows=[(1091, 932, 17.7, 1.5), (1136, 948, 21.1, 1.6)]),
    dict(box=(C1[0], R3[0], C1[1], R3[1]), c=GREEN, base=hs_x3_100_base, tend=65, peaks=hs_x3_100_peaks,
         title='100 µM Xyloside 3', xmax=65, xt=(10, 2), ylim=(-35, 6.9), yt=(10, 2), fmt=None,
         labels=[('GlcA/IdoA\n-GlcNS\n56.3%', 99, 1042), ('GlcA/IdoA\n-GlcNAc-6S\n16.0%', 165, 1101),
                 ('GlcA/IdoA-\nGlcNS-6S\n9.0%', 215, 1063), ('GlcA/IdoA-2S\n-GlcNAc-6S\n18.7%', 252, 1119)],
         arrows=[(161, 1113, 27.6, -24.5), (212, 1077, 39.6, -24.8)]),
    dict(box=(C2[0], R3[0], C2[1], R3[1]), c=RED, base=hs_x4_100_base, tend=65, peaks=hs_x4_100_peaks,
         title='100 µM Xyloside 4', xmax=65, xt=(10, 2), ylim=(-37.8, 30.4), yt=(20, 5), fmt=None,
         labels=[('GlcA/IdoA\n-GlcNS\n50.0%', 422, 1044), ('GlcA/IdoA\n-GlcNAc-6S\n18.5%', 476, 1082),
                 ('GlcA/IdoA-\nGlcNS-6S\n4.5%', 489, 1046), ('GlcA/IdoA-2S\n-GlcNS\n4.6%', 543, 1052),
                 ('GlcA/IdoA-2S\n-GlcNAc-6S\n17.0%', 591, 1076), ('GlcA/IdoA-2S\n-GlcNS-6S\n5.2%', 591, 1116)],
         arrows=[(470, 1095, 28.1, -15.5), (505, 1054, 40.0, -22.7), (537, 1066, 41.1, -22.0),
                 (578, 1089, 44.2, -16.5)]),
    dict(box=(C3[0], R3[0], C3[1], R3[1]), c=GREEN, base=cs_x3_100_base, tend=40, peaks=cs_x3_100_peaks,
         title='100 µM Xyloside 3', xmax=40, xt=(5, 1), ylim=(-42, 60), yt=(20, 5), fmt=None,
         labels=[('GlcA/IdoA-\nGalNAc-4S\n69.2%', 764, 1043), ('GlcA/IdoA-\nGalNAc-6S\n14.3%', 695, 1114),
                 ('GlcA/IdoA-2S-\nGalNAc-6S\n4.7%', 778, 1098), ('GlcA/IdoA-\nGalNAc-4S6S\n5.4%', 844, 1122)],
         arrows=[(772, 1114, 16.65, -23.5), (816, 1129, 17.2, -24.0)]),
    dict(box=(C4[0], R3[0], C4[1], R3[1]), c=RED, base=cs_x4_100_base, tend=40, peaks=cs_x4_100_peaks,
         title='100 µM Xyloside 4', xmax=40, xt=(5, 1), ylim=(-37.2, 25.6), yt=(20, 5), fmt=None,
         labels=[('GlcA/IdoA-\nGalNAc-4S\n61.6%', 1071, 1041), ('GlcA/IdoA-\nGalNAc-6S\n23.8%', 1003, 1104),
                 ('GlcA/IdoA-\nGalNAc-4S6S\n8.2%', 1113, 1120)],
         arrows=[]),
]

handles = {}
for p in panels:
    l, t, r, b = p['box']
    ax = make_axes(l, t, r, b)
    tt, yy = build(p['base'], p['tend'], p['peaks'])
    line, = ax.plot(tt, yy, color=p['c'], lw=1.0)
    handles.setdefault(p['c'], line)
    dress(ax, p['xmax'], p['xt'], p['ylim'], p['yt'], p['fmt'])
    if b > 1100:
        ax.tick_params(axis='x', which='both', pad=0.8, length=2)
    ftext(r - 5, t + 8.5, p['title'], 9.6, ha='right')
    for s, x, y in p['labels']:
        ftext(x, y, s, 6.8, ha='center', linespacing=1.15)
    for x0, y0, tx, ty in p['arrows']:
        ax.annotate('', xy=(tx, ty), xycoords='data', xytext=fxy(x0, y0), textcoords='figure fraction',
                    arrowprops=dict(arrowstyle='->,head_length=0.45,head_width=0.2', lw=0.9, color='k',
                                    shrinkA=0, shrinkB=0))

fig.legend([handles[BLUE], handles[GREEN], handles[RED]],
           ['Endogenous GAGs', 'Xyloside 3 primed GAGs', 'Xyloside 4 primed GAGs'],
           loc='center left', bbox_to_anchor=fxy(354, 551), frameon=False,
           prop=dict(weight='bold', size=13.5), handlelength=1.2, handletextpad=0.2,
           labelspacing=0.27, borderaxespad=0, borderpad=0)

fig.savefig('out.png', dpi=100)
